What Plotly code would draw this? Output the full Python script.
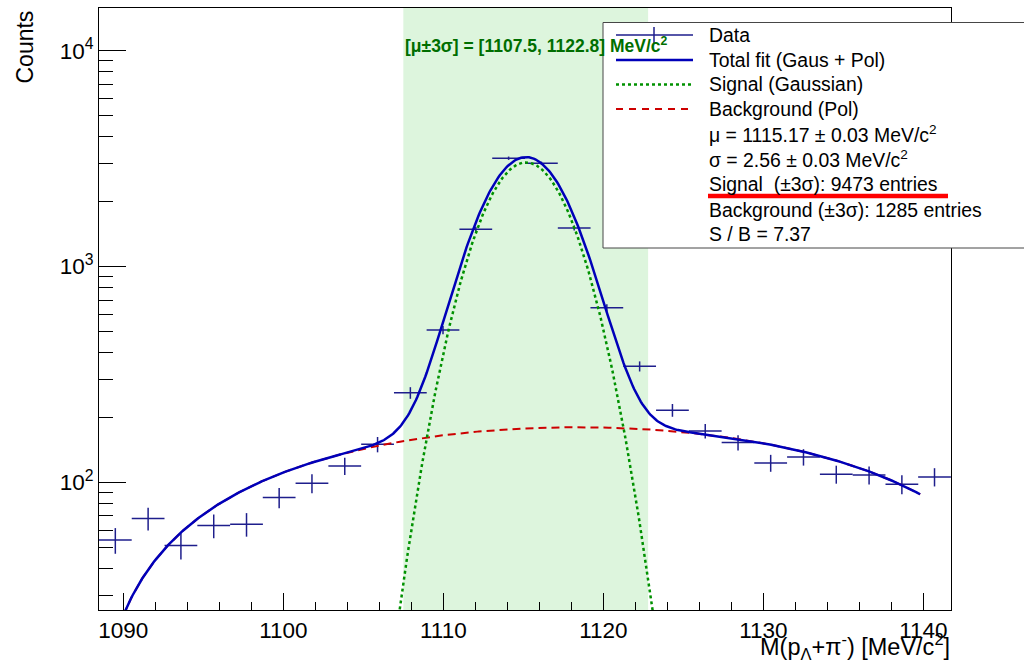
import numpy as np
import plotly.graph_objects as go

# ---------------- data ----------------
bin_centers = [1089.50, 1091.55, 1093.60, 1095.65, 1097.70, 1099.74, 1101.79, 1103.84,
               1105.89, 1107.94, 1109.98, 1112.03, 1114.08, 1116.13, 1118.18, 1120.22,
               1122.27, 1124.32, 1126.37, 1128.42, 1130.46, 1132.51, 1134.56, 1136.61,
               1138.66, 1140.70]
counts = [54, 68, 51, 63, 64, 85, 99, 119, 150, 260, 508, 1490, 3180, 3010, 1510, 644,
          345, 216, 173, 153, 123, 131, 109, 108, 98, 106]
bin_width = 2.048

# fit results (Gaussian signal)
gaus_mu = 1115.17
gaus_sigma = 2.56
gaus_amp = 3040
fit_range = [1090.0, 1139.8]
window = [1107.5, 1122.8]          # mu +- 3 sigma

# background (polynomial) curve
bkg_x = [1090.2, 1091.25, 1092.7, 1094.8, 1096.9, 1098.96, 1101.04, 1103.1, 1105.2,
         1108.96, 1111.04, 1113.1, 1116.25, 1119.4, 1122.5, 1125.2, 1129.4, 1132.5,
         1134.6, 1137.7, 1139.7]
bkg_y = [25.6, 37.2, 51.2, 69.3, 85.8, 103.6, 116, 131.5, 146,
         162.7, 169.6, 174.3, 179.2, 178, 174.8, 171.7, 154, 138.6,
         126.8, 106, 87.3]
bkg_degree = 4

# axes
x_range = [1088.48, 1141.73]
y_range = [25.6, 15800]
x_major = [1090, 1100, 1110, 1120, 1130, 1140]
x_minor = list(range(1090, 1142, 2))
y_major = [100, 1000, 10000]
y_major_text = ["10<sup>2</sup>", "10<sup>3</sup>", "10<sup>4</sup>"]
y_minor = [30, 40, 50, 60, 70, 80, 90, 200, 300, 400, 500, 600, 700, 800, 900,
           2000, 3000, 4000, 5000, 6000, 7000, 8000, 9000]

# legend / info texts
legend_labels = ["Data", "Total fit (Gaus + Pol)", "Signal (Gaussian)", "Background (Pol)",
                 "\u03bc = 1115.17 \u00b1 0.03 MeV/c<sup>2</sup>",
                 "\u03c3 = 2.56 \u00b1 0.03 MeV/c<sup>2</sup>",
                 "Signal  (\u00b13\u03c3): 9473 entries",
                 "Background (\u00b13\u03c3): 1285 entries",
                 "S / B = 7.37"]
window_label = "[\u03bc\u00b13\u03c3] = [1107.5, 1122.8] MeV/c<sup>2</sup>"

# colours
c_data = "rgb(30,30,140)"
c_total = "rgb(0,0,185)"
c_sig = "rgb(0,145,0)"
c_bkg = "rgb(205,0,0)"
c_band = "rgb(221,245,221)"
c_text_green = "rgb(0,110,0)"
FONT = "Liberation Sans, Arial, Helvetica, sans-serif"

# ---------------- curves from the fit model ----------------
bkg_coef = np.polyfit(np.array(bkg_x) - gaus_mu, np.array(bkg_y), bkg_degree)
xf = np.linspace(fit_range[0], fit_range[1], 600)
bkg_curve = np.polyval(bkg_coef, xf - gaus_mu)
sig_curve = gaus_amp * np.exp(-0.5 * ((xf - gaus_mu) / gaus_sigma) ** 2)
tot_curve = sig_curve + bkg_curve
errs = np.sqrt(np.array(counts, dtype=float))

# ---------------- figure ----------------
L, R, T, B = 99, 73, 8, 61
W, H = 1024, 671
PW, PH = W - L - R, H - T - B


def px(xp):
    return (xp - L) / PW


def py(yp):
    return (H - B - yp) / PH


fig = go.Figure()

fig.add_trace(go.Scatter(
    x=bin_centers, y=counts, mode="markers",
    marker=dict(size=1, color=c_data),
    error_x=dict(type="constant", value=bin_width / 2, color=c_data, thickness=1.5, width=0),
    error_y=dict(type="data", array=errs, color=c_data, thickness=1.5, width=0),
    showlegend=False, hoverinfo="x+y"))
fig.add_trace(go.Scatter(x=xf, y=bkg_curve, mode="lines",
                         line=dict(color=c_bkg, width=2, dash="8px,5px"), showlegend=False))
fig.add_trace(go.Scatter(x=xf, y=sig_curve, mode="lines",
                         line=dict(color=c_sig, width=2.5, dash="3px,3px"), showlegend=False))
fig.add_trace(go.Scatter(x=xf, y=tot_curve, mode="lines",
                         line=dict(color=c_total, width=2.5), showlegend=False))

shapes = [
    dict(type="rect", xref="x", yref="paper", x0=window[0], x1=window[1], y0=0, y1=1,
         fillcolor=c_band, line=dict(width=0), layer="below"),
    # legend box
    dict(type="rect", xref="paper", yref="paper", x0=px(603), x1=px(1035), y0=py(248), y1=py(22.5),
         fillcolor="white", line=dict(color="rgb(70,70,70)", width=1), layer="above"),
    # legend samples
    dict(type="line", xref="paper", yref="paper", x0=px(616), x1=px(693), y0=py(35), y1=py(35),
         line=dict(color=c_data, width=1.5)),
    dict(type="line", xref="paper", yref="paper", x0=px(654), x1=px(654), y0=py(27), y1=py(43),
         line=dict(color=c_data, width=1.5)),
    dict(type="line", xref="paper", yref="paper", x0=px(616), x1=px(693), y0=py(60), y1=py(60),
         line=dict(color=c_total, width=2.5)),
    dict(type="line", xref="paper", yref="paper", x0=px(616), x1=px(693), y0=py(84.5), y1=py(84.5),
         line=dict(color=c_sig, width=2.5, dash="3px,3px")),
    dict(type="line", xref="paper", yref="paper", x0=px(616), x1=px(693), y0=py(109), y1=py(109),
         line=dict(color=c_bkg, width=2, dash="7px,6px")),
    # red underline
    dict(type="line", xref="paper", yref="paper", x0=px(708), x1=px(948), y0=py(196), y1=py(196),
         line=dict(color="rgb(255,0,0)", width=4.5)),
]

row_y = [35, 60, 84.5, 109, 134, 159, 184, 209.5, 234]
annotations = []
for lab, yy in zip(legend_labels, row_y):
    annotations.append(dict(xref="paper", yref="paper", x=px(707), y=py(yy), text=lab,
                            xanchor="left", yanchor="middle", showarrow=False,
                            font=dict(family=FONT, size=19.4, color="black")))
annotations.append(dict(xref="x", yref="paper", x=window[0], y=py(45), text="<b>" + window_label + "</b>",
                        xanchor="left", yanchor="middle", showarrow=False,
                        font=dict(family=FONT, size=17.5, color=c_text_green)))
annotations.append(dict(xref="paper", yref="paper", x=px(25), y=py(9), text="Counts",
                        textangle=-90, xanchor="center", yanchor="top", showarrow=False,
                        font=dict(family=FONT, size=23, color="black")))
annotations.append(dict(xref="paper", yref="paper", x=px(952), y=py(628),
                        text="M(p<sub>\u039b</sub>+\u03c0<sup>-</sup>) [MeV/c<sup>2</sup>]",
                        xanchor="right", yanchor="top", showarrow=False,
                        font=dict(family=FONT, size=23.5, color="black")))

fig.update_layout(
    width=W, height=H,
    margin=dict(l=L, r=R, t=T, b=B, autoexpand=False),
    paper_bgcolor="white", plot_bgcolor="white",
    font=dict(family=FONT, size=22, color="black"),
    shapes=shapes, annotations=annotations, showlegend=False,
    xaxis=dict(range=x_range, showgrid=False, zeroline=False, showline=True, mirror=True,
               linecolor="black", linewidth=1, ticks="inside", ticklen=17, tickwidth=1,
               tickcolor="black", tickmode="array", tickvals=x_major,
               ticktext=[str(v) for v in x_major], tickfont=dict(size=22.5),
               minor=dict(tickmode="array", tickvals=x_minor, ticks="inside", ticklen=8,
                          tickcolor="black", tickwidth=1, showgrid=False)),
    yaxis=dict(type="log", range=[np.log10(y_range[0]), np.log10(y_range[1])],
               showgrid=False, zeroline=False, showline=True, mirror=True,
               linecolor="black", linewidth=1, ticks="inside", ticklen=27, tickwidth=1,
               tickcolor="black", tickmode="array", tickvals=y_major, ticktext=y_major_text,
               tickfont=dict(size=22.5),
               minor=dict(tickmode="array", tickvals=y_minor, ticks="inside", ticklen=14,
                          tickcolor="black", tickwidth=1, showgrid=False)),
)

fig.write_html("out.html", config={"displayModeBar": False},
               post_script="document.body.style.margin='0';document.body.style.overflow='hidden';")
